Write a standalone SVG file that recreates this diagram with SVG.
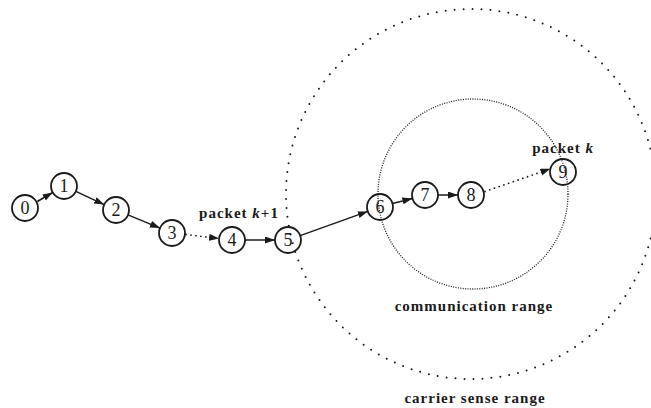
<svg xmlns="http://www.w3.org/2000/svg" width="651" height="408" viewBox="0 0 651 408">
<style>
.node circle{fill:none;stroke:#1a1a1a;stroke-width:1.8}
.node text{font-family:"Liberation Serif",serif;font-size:18px;fill:#1a1a1a;text-anchor:middle}
.lbl{font-family:"Liberation Serif",serif;font-size:15px;font-weight:bold;fill:#1a1a1a;text-anchor:middle;letter-spacing:1px}
.solid{stroke:#1a1a1a;stroke-width:1.5;fill:none;marker-end:url(#ah)}
.dot{stroke:#1a1a1a;stroke-width:1.8;fill:none;stroke-dasharray:0 5;stroke-linecap:round;marker-end:url(#ah)}
</style>
<defs>
<marker id="ah" markerUnits="userSpaceOnUse" markerWidth="11" markerHeight="8" refX="10" refY="3.5" orient="auto">
<path d="M0,0 L10,3.5 L0,7 z" fill="#1a1a1a"/>
</marker>
</defs>
<rect width="651" height="408" fill="#fff"/>
<g id="ranges">
<circle cx="471" cy="194" r="185" fill="none" stroke="#1a1a1a" stroke-width="2" stroke-dasharray="0 9" stroke-linecap="round"/>
<circle cx="473" cy="194" r="95" fill="none" stroke="#1a1a1a" stroke-width="1.3" stroke-dasharray="1 1.4"/>
</g>
<g id="connectors">
<line class="solid" x1="37.3" y1="201.5" x2="52.7" y2="192.5"/>
<line class="solid" x1="75.8" y1="191.4" x2="104.2" y2="204.6"/>
<line class="solid" x1="128" y1="214.9" x2="160" y2="228.1"/>
<line class="dot" x1="186" y1="234.5" x2="219.1" y2="238.5"/>
<line class="solid" x1="245" y1="240" x2="275" y2="240"/>
<line class="solid" x1="300.2" y1="235.6" x2="367.8" y2="211.4"/>
<line class="solid" x1="392.6" y1="203.6" x2="412.4" y2="198.4"/>
<line class="solid" x1="438" y1="195" x2="458" y2="195"/>
<line class="dot" x1="485" y1="191.5" x2="550.4" y2="168.8"/>
</g>
<g id="n0" class="node"><circle cx="25" cy="208" r="13"/><text x="25" y="214">0</text></g>
<g id="n1" class="node"><circle cx="64" cy="186" r="13"/><text x="64" y="192">1</text></g>
<g id="n2" class="node"><circle cx="116" cy="210" r="13"/><text x="116" y="216">2</text></g>
<g id="n3" class="node"><circle cx="172" cy="233" r="13"/><text x="172" y="239">3</text></g>
<g id="n4" class="node"><circle cx="232" cy="240" r="13"/><text x="232" y="246">4</text></g>
<g id="n5" class="node"><circle cx="288" cy="240" r="13"/><text x="288" y="246">5</text></g>
<g id="n6" class="node"><circle cx="380" cy="207" r="13"/><text x="380" y="213">6</text></g>
<g id="n7" class="node"><circle cx="425" cy="195" r="13"/><text x="425" y="201">7</text></g>
<g id="n8" class="node"><circle cx="471" cy="195" r="13"/><text x="471" y="201">8</text></g>
<g id="n9" class="node"><circle cx="563" cy="172" r="13"/><text x="563" y="178">9</text></g>
<g id="labels">
<text class="lbl" x="239" y="218">packet <tspan font-style="italic">k</tspan>+1</text>
<text class="lbl" x="563" y="153">packet <tspan font-style="italic">k</tspan></text>
<text class="lbl" x="474" y="311">communication range</text>
<text class="lbl" x="475" y="403">carrier sense range</text>
</g>
</svg>
